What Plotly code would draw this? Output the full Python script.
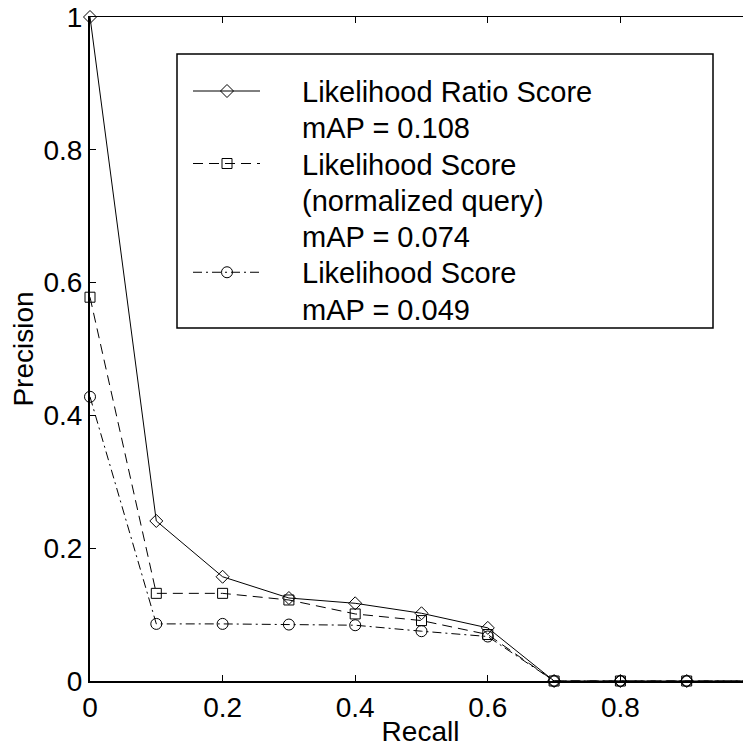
import plotly.graph_objects as go

# ---------------- data ----------------
recall = [0.0, 0.1, 0.2, 0.3, 0.4, 0.5, 0.6, 0.7, 0.8, 0.9, 1.0]
lr_precision = [1.0, 0.241, 0.157, 0.125, 0.117, 0.102, 0.080, 0.0, 0.0, 0.0, 0.0]
lsn_precision = [0.578, 0.132, 0.132, 0.122, 0.101, 0.091, 0.070, 0.0, 0.0, 0.0, 0.0]
ls_precision = [0.428, 0.086, 0.086, 0.085, 0.084, 0.075, 0.067, 0.0, 0.0, 0.0, 0.0]

legend_lines = [
    "Likelihood Ratio Score",
    "mAP = 0.108",
    "Likelihood Score",
    "(normalized query)",
    "mAP = 0.074",
    "Likelihood Score",
    "mAP = 0.049",
]
x_ticks = [0, 0.2, 0.4, 0.6, 0.8]
y_ticks = [0, 0.2, 0.4, 0.6, 0.8, 1]

# ---------------- style / layout ----------------
# the page body adds an 8px margin; compensate so the plot lands where the original is
OFF = 8
W, H = 751 - OFF, 750 - OFF
ML, MR, MT, MB = 90 - OFF, 0, 17 - OFF, 69
PW, PH = W - ML - MR, H - MT - MB
XSCALE = 663.0                      # pixels per recall unit
XMAX = PW / XSCALE
FONT = "Liberation Sans, Arial, sans-serif"
FS = 28
LFS = 29
DASH = "10px,6px"
DASHDOT = "9px,4px,2px,4px"

series = [
    (lr_precision, "solid", "diamond-open", 10),
    (lsn_precision, DASH, "square-open", 10),
    (ls_precision, DASHDOT, "circle-open", 11),
]

fig = go.Figure()
for vals, dash, sym, size in series:
    fig.add_trace(go.Scatter(
        x=recall, y=vals, mode="lines+markers",
        line=dict(color="black", width=1, dash=dash),
        marker=dict(symbol=sym, size=size, color="black", line=dict(width=1, color="black")),
        cliponaxis=False, showlegend=False, hoverinfo="skip"))

# dummy trace for the mirrored (top/right) axes
fig.add_trace(go.Scatter(x=[None], y=[None], xaxis="x2", yaxis="y2",
                         showlegend=False, hoverinfo="skip"))


# screen pixel -> paper coordinate
def xp(px):
    return (px - OFF - ML) / PW


def yp(py):
    return (MT + PH - (py - OFF)) / PH


shapes = []
annotations = []

# legend box
shapes.append(dict(type="rect", xref="paper", yref="paper",
                   x0=xp(177), x1=xp(713), y0=yp(328), y1=yp(54),
                   line=dict(color="black", width=1.5), fillcolor="white", layer="above"))

LINE_H = 36.25
TOP_CENTER = 92
for i, txt in enumerate(legend_lines):
    annotations.append(dict(xref="paper", yref="paper", x=xp(300), y=yp(TOP_CENTER + i * LINE_H),
                            xanchor="left", yanchor="middle", text=txt, showarrow=False,
                            font=dict(family=FONT, size=LFS, color="black")))

# legend samples (line + marker)
sample_rows = [0, 2, 5]
for (vals, dash, sym, size), row in zip(series, sample_rows):
    cy = TOP_CENTER + row * LINE_H - 1
    shapes.append(dict(type="line", xref="paper", yref="paper",
                       x0=xp(193), x1=xp(260), y0=yp(cy), y1=yp(cy),
                       line=dict(color="black", width=1, dash=dash), layer="above"))
    cx = 227
    if sym.startswith("diamond"):
        r = 6.5
        path = (f"M{xp(cx + r)},{yp(cy)} L{xp(cx)},{yp(cy + r)} "
                f"L{xp(cx - r)},{yp(cy)} L{xp(cx)},{yp(cy - r)} Z")
        shapes.append(dict(type="path", xref="paper", yref="paper", path=path,
                           line=dict(color="black", width=1), layer="above"))
    elif sym.startswith("square"):
        r = 5
        shapes.append(dict(type="rect", xref="paper", yref="paper",
                           x0=xp(cx - r), x1=xp(cx + r), y0=yp(cy + r), y1=yp(cy - r),
                           line=dict(color="black", width=1), layer="above"))
    else:
        r = 5.5
        shapes.append(dict(type="circle", xref="paper", yref="paper",
                           x0=xp(cx - r), x1=xp(cx + r), y0=yp(cy + r), y1=yp(cy - r),
                           line=dict(color="black", width=1), layer="above"))

# tick label "1" on x axis, cut by the page edge as in the original
annotations.append(dict(xref="paper", yref="paper", x=1.0 * XSCALE / PW, y=0,
                        yanchor="top", xanchor="center",
                        yshift=-6, text="1", showarrow=False,
                        font=dict(family=FONT, size=FS, color="black")))

axis_common = dict(ticks="inside", ticklen=6, tickwidth=1, tickcolor="black",
                   showgrid=False, zeroline=False,
                   tickfont=dict(family=FONT, size=FS, color="black"))

fig.update_layout(
    width=W, height=H,
    margin=dict(l=ML, r=MR, t=MT, b=MB, pad=0),
    paper_bgcolor="white", plot_bgcolor="white",
    font=dict(family=FONT, size=FS, color="black"),
    xaxis=dict(range=[0, XMAX], tickvals=x_ticks, ticktext=[f"{v:g}" for v in x_ticks],
               showline=True, linewidth=2, linecolor="black", automargin=False,
               ticklabeloverflow="allow",
               title=dict(text="Recall", standoff=0, font=dict(family=FONT, size=FS)),
               **axis_common),
    yaxis=dict(range=[0, 1], tickvals=y_ticks, ticktext=[f"{v:g}" for v in y_ticks],
               showline=True, linewidth=2, linecolor="black", automargin=False,
               ticklabeloverflow="allow",
               title=dict(text="Precision", standoff=4, font=dict(family=FONT, size=FS)),
               **axis_common),
    xaxis2=dict(range=[0, XMAX], overlaying="x", side="top", tickvals=x_ticks,
                showticklabels=False, showline=True, linewidth=1, linecolor="black",
                **axis_common),
    yaxis2=dict(range=[0, 1], overlaying="y", side="right", tickvals=y_ticks,
                showticklabels=False, showline=False, **axis_common),
    shapes=shapes, annotations=annotations,
)

fig.write_html("out.html")
